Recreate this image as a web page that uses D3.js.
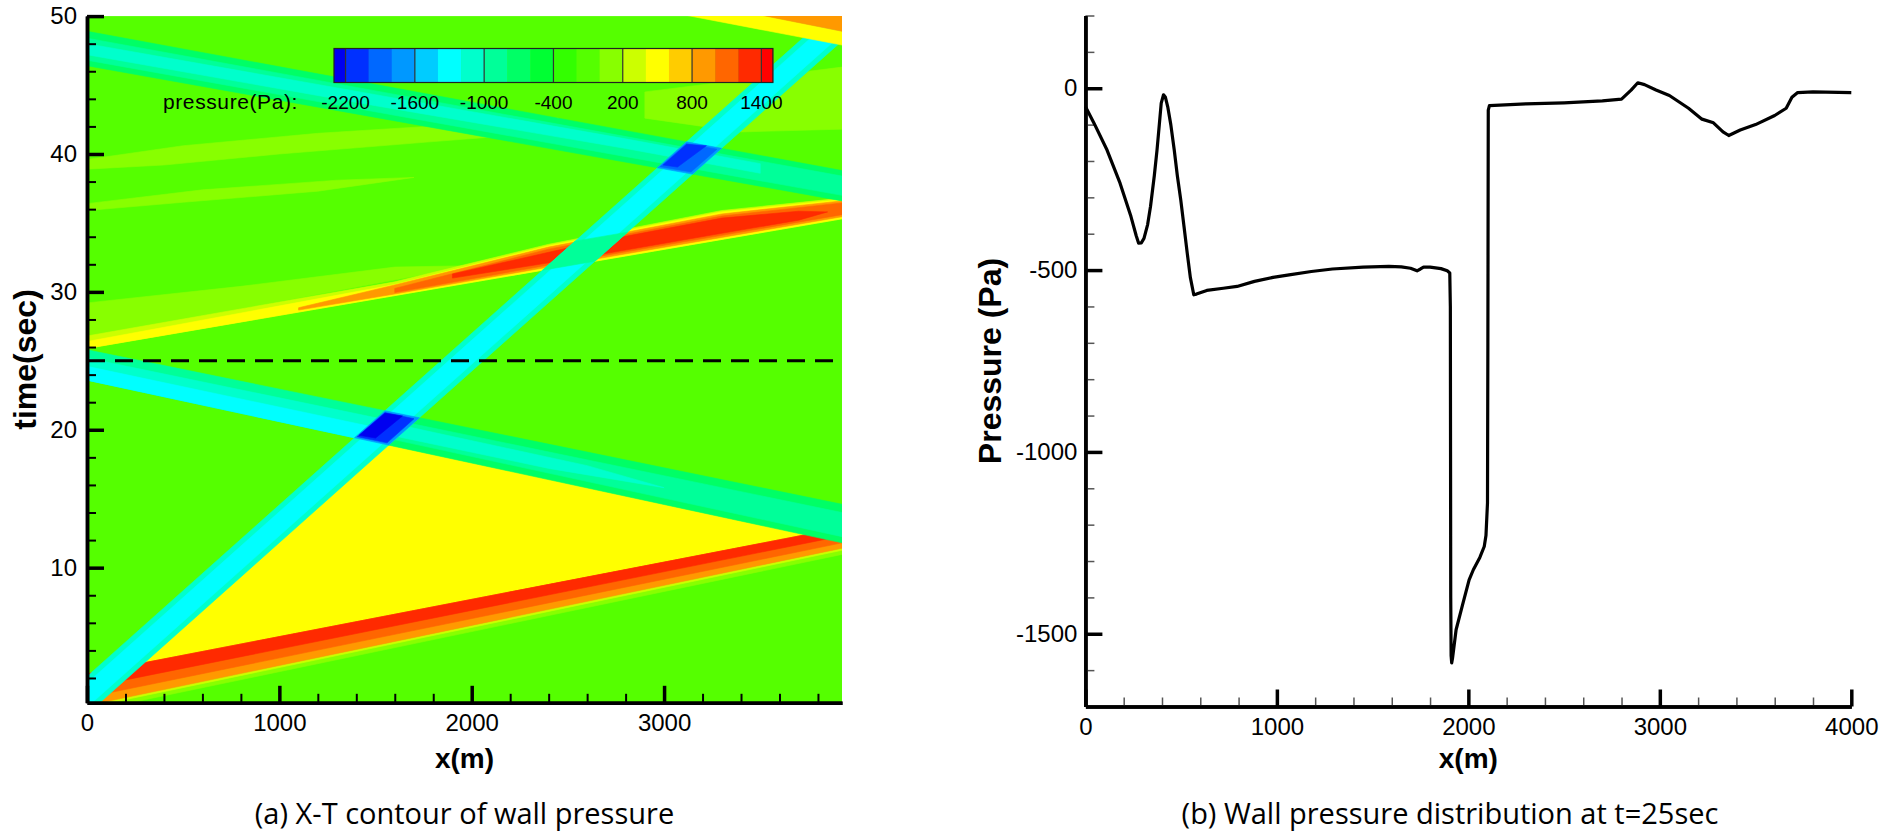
<!DOCTYPE html>
<html><head><meta charset="utf-8">
<script src="https://cdn.jsdelivr.net/npm/d3@7"></script>
<style>body{margin:0;background:#fff}svg{display:block}</style>
</head><body>
<svg id="chart" width="1901" height="836"></svg>
<script>
// ---------------- data ----------------
const pressureLevels = [-2200,-2000,-1800,-1600,-1400,-1200,-1000,-800,-600,-400,-200,0,200,400,600,800,1000,1200,1400];
const levelColors = ['#0000f0','#0030ff','#0068ff','#0098ff','#00ccff','#00ffff','#00ffcc','#00ff99','#00ff66','#00ff33','#33ff00','#55ff00','#88ff00','#ccff00','#ffff00','#ffcc00','#ff9900','#ff6600','#ff2a00','#ff0000'];
const colorbarRange = [-2300, 1500];
const colorbarTicks = [-2200,-1600,-1000,-400,200,800,1400];
const contourXTicks = [0,1000,2000,3000];
const contourTTicks = [10,20,30,40,50];
const profileXTicks = [0,1000,2000,3000,4000];
const profilePTicks = [0,-500,-1000,-1500];
const sliceTime = 25;
const ambientPressure = -100;

// contour regions in data units: x (m), t (s), pressure (Pa)
const fieldPatches = [
  {p:100, pts:[[0,39.6],[500,40.6],[1200,41.5],[2000,42.2],[2450,42.6],[2450,41.6],[1800,40.9],[1000,40.0],[400,39.2],[0,38.9]]},
  {p:100, pts:[[0,36.4],[600,37.4],[1300,38.1],[1700,38.3],[1200,37.3],[500,36.5],[0,35.9]]},
  {p:100, pts:[[0,26.6],[700,28.5],[1500,30.6],[2000,31.9],[1600,31.8],[800,30.4],[0,29.2]]},
  {p:100, pts:[[2900,44.5],[3925,46.3],[3925,41.8],[3400,41.6],[2900,42.6]]}
];
const plateau = [
  {p:500, pts:[[159,2.73],[3732,12.38],[1480,19.15]]}
];
const compression1 = [
  {p:100, pts:[[0,-0.45],[3925,10.96],[3925,11.41],[0,0]]},
  {p:300, pts:[[0,-0.15],[3925,11.26],[3925,11.41],[0,0]]},
  {p:900, pts:[[0,0],[3925,11.41],[3925,12.9],[0,2.3]]},
  {p:1100, pts:[[0,0.6],[3925,11.8],[3925,12.9],[0,2.3]]},
  {p:1300, pts:[[0,1.3],[3925,12.3],[3925,12.9],[0,2.3]]}
];
const expansion1 = [
  {p:-900, pts:[[0,23.6],[1480,19.15],[1638,21.13],[0,25.8]]},
  {p:-1100, pts:[[0,23.6],[1480,19.15],[1596,20.6],[0,25.2]]},
  {p:-1300, pts:[[0,23.6],[1480,19.15],[1549,20.02],[0,24.6]]},
  {p:-700, pts:[[1480,19.15],[3925,11.8],[3925,14.6],[1638,21.13]]},
  {p:-900, pts:[[1511,19.54],[3925,12.25],[3925,14.0],[1603,20.69]]},
  {p:-1100, pts:[[1530,19.75],[2400,17.2],[3000,15.8],[2600,17.4],[1590,20.45]]}
];
const compression2 = [
  {p:300, pts:[[0,25.9],[3925,35.3],[3925,36.8],[3300,35.9],[2400,33.45],[1600,30.73],[0,26.8]]},
  {p:500, pts:[[0,25.9],[3925,35.3],[3925,36.7],[3300,35.8],[2400,33.35],[1600,30.53],[0,26.4]]},
  {p:900, pts:[[1100,28.68],[1600,29.85],[2400,31.8],[3300,33.95],[3925,35.45],[3925,36.6],[3300,35.65],[2400,33.25],[1600,30.5],[1100,28.85]]},
  {p:1100, pts:[[1600,29.95],[2400,31.95],[3300,34.1],[3925,35.6],[3925,36.45],[3300,35.5],[2400,33.1],[1600,30.25]]},
  {p:1300, pts:[[1900,31.0],[2600,32.55],[3300,34.25],[3700,35.2],[3850,35.8],[3700,35.85],[3300,35.35],[2600,33.5],[1900,31.3]]}
];
const expansion2 = [
  {p:-700, pts:[[0,46.4],[3925,36.6],[3925,38.8],[0,48.9]]},
  {p:-900, pts:[[0,46.8],[3925,37.0],[3925,38.4],[0,48.4]]},
  {p:-1100, pts:[[0,47.2],[1500,43.5],[2800,40.4],[3500,38.6],[3500,39.3],[2800,41.1],[1500,44.3],[0,48.0]]}
];
const trainBand = [
  {p:-1100, pts:[[-170,0],[3890,50.5],[4110,50.5],[50,0]]},
  {p:-1300, pts:[[-130,0],[3930,50.5],[4070,50.5],[10,0]]}
];
const trainCrossings = [
  {p:-900, pts:[[2368,31.57],[2640,32.22],[2810,34.33],[2537,33.68]]},
  {p:-1700, pts:[[1391,19.42],[1568,18.89],[1728,20.87],[1549,21.38]]},
  {p:-2100, pts:[[1405,19.5],[1560,19.05],[1700,20.8],[1549,21.25]]},
  {p:-2250, pts:[[1415,19.6],[1500,19.4],[1640,21.0],[1549,21.2]]},
  {p:-1700, pts:[[2965,39.0],[3148,38.54],[3299,40.41],[3117,40.88]]},
  {p:-1900, pts:[[2980,39.08],[3140,38.7],[3275,40.35],[3117,40.75]]},
  {p:-2100, pts:[[2995,39.2],[3070,39.05],[3220,40.6],[3117,40.7]]}
];
const exitCorner = [
  {p:500, pts:[[2950,50.5],[3925,47.9],[3925,48.9],[3350,50.5]]},
  {p:900, pts:[[3350,50.5],[3925,48.9],[3925,50.5]]}
];

// wall pressure at t = 25 s
const profileX = [0,45,113,181,238,265,278,292,306,325,340,360,374,386,396,408,418,430,446,464,480,498,515,532,548,566,580,634,720,792,883,980,1064,1180,1290,1450,1585,1650,1698,1732,1750,1766,1800,1857,1890,1903,1906,1907,1908,1910,1913,1918,1936,1970,2004,2026,2060,2083,2092,2100,2102,2104,2110,2300,2500,2700,2800,2850,2885,2920,2980,3050,3150,3220,3280,3330,3360,3420,3500,3600,3660,3690,3720,3800,4000];
const profileP = [-50,-96,-170,-261,-353,-405,-426,-425,-413,-375,-325,-240,-170,-100,-41,-18,-25,-51,-100,-170,-240,-307,-380,-454,-520,-568,-566,-556,-550,-545,-531,-520,-513,-504,-497,-492,-490,-491,-495,-502,-497,-492,-492,-496,-502,-508,-600,-1000,-1400,-1560,-1580,-1565,-1489,-1420,-1352,-1324,-1290,-1260,-1230,-1140,-700,-60,-48,-43,-40,-35,-30,-5,15,10,-5,-20,-55,-85,-95,-120,-130,-115,-100,-75,-55,-25,-12,-10,-12];

// ---------------- drawing ----------------
const svg = d3.select('#chart');
const tickFont = "'Liberation Sans', Arial, sans-serif";
const color = d3.scaleThreshold().domain(pressureLevels).range(levelColors);
const plain = d => String(d);

// left: x-t contour
const xC = d3.scaleLinear().domain([0,3925]).range([87,842]);
const tC = d3.scaleLinear().domain([0.2,50]).range([702.8,16.1]);

svg.append('defs').append('clipPath').attr('id','fieldClip').append('rect')
  .attr('x',xC(0)).attr('y',tC(50)).attr('width',xC(3925)-xC(0)).attr('height',tC(0.2)-tC(50));

const field = svg.append('g').attr('clip-path','url(#fieldClip)');
field.append('rect').attr('x',xC(0)).attr('y',tC(50)).attr('width',xC(3925)-xC(0)).attr('height',tC(0.2)-tC(50))
  .attr('fill',color(ambientPressure));

const poly = d3.line().x(d=>xC(d[0])).y(d=>tC(d[1]));
[fieldPatches, plateau, compression1, expansion1, compression2, expansion2, trainBand, trainCrossings, exitCorner].forEach(layer=>{
  field.append('g').selectAll('path').data(layer).join('path')
    .attr('d', d=>poly(d.pts)+'Z')
    .attr('fill', d=>color(d.p))
    .attr('stroke', d=>color(d.p)).attr('stroke-width',0.6);
});

field.append('line')
  .attr('x1',xC(0)).attr('x2',xC(3925)).attr('y1',tC(sliceTime)).attr('y2',tC(sliceTime))
  .attr('stroke','#000').attr('stroke-width',3).attr('stroke-dasharray','18,10');

function styleAxis(g, major){
  g.select('.domain').attr('stroke','#000').attr('stroke-width',3.5);
  g.selectAll('.tick line').attr('stroke','#000').attr('stroke-width', major?3.5:2);
  g.selectAll('.tick text').attr('font-family',tickFont).attr('font-size',24).attr('fill','#000');
}
const range = (a,b,s)=>d3.range(a,b+1e-9,s);

// left axes
const lx = svg.append('g').attr('transform',`translate(0,${tC(0.2)})`);
lx.append('g').call(d3.axisBottom(xC).tickValues(range(200,3800,200).filter(v=>v%1000)).tickSize(-9).tickFormat('').tickSizeOuter(0)).call(g=>styleAxis(g,false));
lx.append('g').call(d3.axisBottom(xC).tickValues(contourXTicks).tickFormat(plain).tickSize(-17).tickPadding(11).tickSizeOuter(0)).call(g=>styleAxis(g,true));
const ly = svg.append('g').attr('transform',`translate(${xC(0)},0)`);
ly.append('g').call(d3.axisLeft(tC).tickValues(range(2,48,2).filter(v=>v%10)).tickSize(-9).tickFormat('').tickSizeOuter(0)).call(g=>styleAxis(g,false));
ly.append('g').call(d3.axisLeft(tC).tickValues(contourTTicks).tickFormat(plain).tickSize(-17).tickPadding(10).tickSizeOuter(0)).call(g=>styleAxis(g,true));

svg.append('text').attr('transform',`translate(36,${(tC(50)+tC(0.2))/2}) rotate(-90)`)
  .attr('text-anchor','middle').attr('font-family',tickFont).attr('font-weight','bold').attr('font-size',32).text('time(sec)');
svg.append('text').attr('x',(xC(0)+xC(3925))/2).attr('y',768)
  .attr('text-anchor','middle').attr('font-family',tickFont).attr('font-weight','bold').attr('font-size',28).text('x(m)');

// colorbar
const cb = d3.scaleLinear().domain(colorbarRange).range([334,772.9]);
const cbEdges = [colorbarRange[0], ...pressureLevels, colorbarRange[1]];
const cbG = svg.append('g');
cbG.selectAll('rect').data(d3.pairs(cbEdges)).join('rect')
  .attr('x',d=>cb(d[0])).attr('width',d=>cb(d[1])-cb(d[0])+0.3)
  .attr('y',48.5).attr('height',34).attr('fill',d=>color((d[0]+d[1])/2));
cbG.selectAll('line').data(colorbarTicks).join('line')
  .attr('x1',d=>cb(d)).attr('x2',d=>cb(d)).attr('y1',48.5).attr('y2',82.5).attr('stroke','#333').attr('stroke-width',1.2);
cbG.append('rect').attr('x',cb(colorbarRange[0])).attr('y',48.5).attr('width',cb(colorbarRange[1])-cb(colorbarRange[0])).attr('height',34)
  .attr('fill','none').attr('stroke','#222').attr('stroke-width',1.2);
cbG.selectAll('text.lbl').data(colorbarTicks).join('text').attr('class','lbl')
  .attr('x',d=>cb(d)).attr('y',109).attr('text-anchor','middle').attr('font-family',tickFont).attr('font-size',19).text(plain);
cbG.append('text').attr('x',163).attr('y',109).attr('font-family',tickFont).attr('font-size',21).attr('letter-spacing',0.6).text('pressure(Pa):');

// right: wall pressure profile
const xP = d3.scaleLinear().domain([0,4000]).range([1085.4,1851.3]);
const yP = d3.scaleLinear().domain([-1700,200]).range([706.5,15.5]);

const rx = svg.append('g').attr('transform',`translate(0,${yP(-1700)})`);
rx.append('g').call(d3.axisBottom(xP).tickValues(range(200,3800,200).filter(v=>v%1000)).tickSize(-9).tickFormat('').tickSizeOuter(0)).call(g=>{styleAxis(g,false);g.selectAll('.tick line').attr('stroke','#555').attr('stroke-width',1.5);});
rx.append('g').call(d3.axisBottom(xP).tickValues(profileXTicks).tickFormat(plain).tickSize(-17).tickPadding(11).tickSizeOuter(0)).call(g=>styleAxis(g,true));
const ry = svg.append('g').attr('transform',`translate(${xP(0)},0)`);
ry.append('g').call(d3.axisLeft(yP).tickValues(range(-1600,200,100).filter(v=>v%500)).tickSize(-9).tickFormat('').tickSizeOuter(0)).call(g=>{styleAxis(g,false);g.selectAll('.tick line').attr('stroke','#555').attr('stroke-width',1.5);});
ry.append('g').call(d3.axisLeft(yP).tickValues(profilePTicks).tickFormat(plain).tickSize(-17).tickPadding(8).tickSizeOuter(0)).call(g=>styleAxis(g,true));

svg.append('path').datum(d3.zip(profileX, profileP))
  .attr('d', d3.line().x(d=>xP(d[0])).y(d=>yP(d[1])))
  .attr('fill','none').attr('stroke','#000').attr('stroke-width',3.2).attr('stroke-linejoin','round');

svg.append('text').attr('transform',`translate(1001,${(yP(200)+yP(-1700))/2}) rotate(-90)`)
  .attr('text-anchor','middle').attr('font-family',tickFont).attr('font-weight','bold').attr('font-size',32).text('Pressure (Pa)');
svg.append('text').attr('x',(xP(0)+xP(4000))/2).attr('y',768)
  .attr('text-anchor','middle').attr('font-family',tickFont).attr('font-weight','bold').attr('font-size',28).text('x(m)');

// captions
const capFont = "'Open Sans', 'Noto Sans', sans-serif";
svg.append('text').attr('x',(xC(0)+xC(3925))/2).attr('y',824).attr('text-anchor','middle')
  .attr('font-family',capFont).attr('font-size',29).text('(a) X-T contour of wall pressure');
svg.append('text').attr('x',1450).attr('y',824).attr('text-anchor','middle')
  .attr('font-family',capFont).attr('font-size',29).text('(b) Wall pressure distribution at t=25sec');
</script>
</body></html>
